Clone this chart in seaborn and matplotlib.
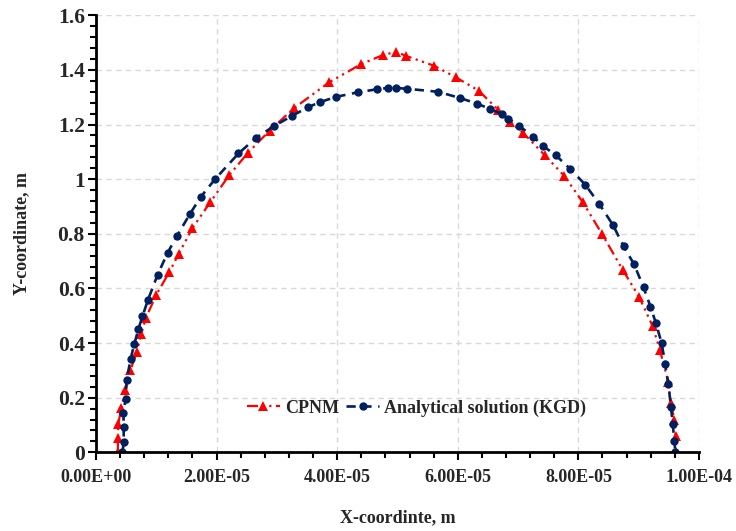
import matplotlib
matplotlib.use("Agg")
import matplotlib.pyplot as plt
import seaborn as sns
import numpy as np
import pandas as pd
from matplotlib.ticker import MultipleLocator, FuncFormatter

# CPNM results (x in m, y in m)
cpnm_x = [0.362, 0.365, 0.370, 0.420, 0.489, 0.572, 0.677, 0.750, 0.828, 0.998,
          1.219, 1.370, 1.600, 1.897, 2.207, 2.522, 2.881, 3.284, 3.869, 4.395,
          4.765, 4.980, 5.146, 5.610, 5.967, 6.348, 6.672, 6.874, 7.086, 7.446,
          7.766, 8.075, 8.396, 8.740, 9.005, 9.232, 9.353, 9.491, 9.531, 9.594,
          9.615, 9.619]
cpnm_y = [0.000, 0.053, 0.103, 0.164, 0.229, 0.301, 0.368, 0.433, 0.492, 0.576,
          0.661, 0.726, 0.821, 0.916, 1.014, 1.097, 1.178, 1.260, 1.355, 1.421,
          1.455, 1.466, 1.451, 1.415, 1.373, 1.324, 1.253, 1.208, 1.169, 1.087,
          1.012, 0.915, 0.798, 0.666, 0.570, 0.462, 0.373, 0.259, 0.181, 0.117,
          0.059, 0.000]

# Analytical KGD solution
kgd_x = [0.439, 0.461, 0.459, 0.456, 0.491, 0.509, 0.575, 0.638, 0.705, 0.771,
         0.859, 1.022, 1.189, 1.343, 1.559, 1.741, 1.978, 2.363, 2.653, 2.957,
         3.245, 3.521, 3.715, 3.975, 4.340, 4.655, 4.847, 4.975, 5.158, 5.672,
         6.041, 6.323, 6.542, 6.741, 6.836, 7.018, 7.252, 7.410, 7.624, 7.861,
         8.114, 8.350, 8.574, 8.751, 8.922, 9.080, 9.196, 9.287, 9.381, 9.439,
         9.491, 9.536, 9.564, 9.594, 9.607]
kgd_y = [0.000, 0.038, 0.091, 0.145, 0.195, 0.264, 0.343, 0.398, 0.452, 0.498,
         0.556, 0.650, 0.731, 0.792, 0.873, 0.936, 1.001, 1.094, 1.151, 1.195,
         1.231, 1.264, 1.282, 1.301, 1.318, 1.329, 1.334, 1.334, 1.331, 1.320,
         1.297, 1.276, 1.257, 1.237, 1.222, 1.195, 1.156, 1.122, 1.088, 1.038,
         0.980, 0.908, 0.832, 0.754, 0.689, 0.605, 0.533, 0.472, 0.399, 0.324,
         0.250, 0.167, 0.102, 0.041, 0.000]

x_scale = 1e-5
cpnm = pd.DataFrame({"x": np.array(cpnm_x) * x_scale, "y": cpnm_y})
kgd = pd.DataFrame({"x": np.array(kgd_x) * x_scale, "y": kgd_y})

sns.set_theme(style="white")
plt.rcParams["font.family"] = ["Liberation Serif", "DejaVu Serif"]
plt.rcParams["font.weight"] = "bold"

fig = plt.figure(figsize=(7.36, 5.31), dpi=100)
ax = fig.add_axes([0.1304, 0.1482, 0.8193, 0.8230])

sns.lineplot(data=cpnm, x="x", y="y", sort=False, estimator=None, ax=ax,
             color="#FF0000", linewidth=1.6, linestyle=(0, (5, 2, 1, 2, 1, 2)),
             marker="^", markersize=7, markeredgewidth=0, label="CPNM")
sns.lineplot(data=kgd, x="x", y="y", sort=False, estimator=None, ax=ax,
             color="#002060", linewidth=1.9, linestyle=(0, (3.5, 2.5)),
             marker="o", markersize=6, markeredgewidth=0,
             label="Analytical solution (KGD)")

ax.set_xlim(0, 1e-4)
ax.set_ylim(0, 1.6)
ax.xaxis.set_major_locator(MultipleLocator(2e-5))
ax.xaxis.set_minor_locator(MultipleLocator(4e-6))
ax.yaxis.set_major_locator(MultipleLocator(0.2))
ax.yaxis.set_minor_locator(MultipleLocator(0.04))
ax.xaxis.set_major_formatter(FuncFormatter(lambda v, p: f"{v:.2E}"))
ax.yaxis.set_major_formatter(FuncFormatter(lambda v, p: f"{v:g}"))

ax.grid(True, which="major", color="#D9D9D9", linestyle=(0, (4, 3)), linewidth=1.0)
ax.set_axisbelow(True)
for s in ["top", "right"]:
    ax.spines[s].set_visible(False)
for s in ["left", "bottom"]:
    ax.spines[s].set_color("black")
    ax.spines[s].set_linewidth(2.0)

ax.tick_params(axis="both", which="major", direction="out", length=6, width=1.5,
               color="black", bottom=True, left=True)
ax.tick_params(axis="both", which="minor", direction="out", length=4, width=1.5,
               color="black", bottom=True, left=True)
ax.tick_params(axis="x", which="major", labelsize=13, pad=6)
ax.tick_params(axis="y", which="major", labelsize=15.5, pad=2)
for lbl in ax.get_xticklabels() + ax.get_yticklabels():
    lbl.set_fontweight("bold")

ax.set_xlabel("X-coordinte, m", fontsize=13, fontweight="bold", labelpad=17)
ax.set_ylabel("Y-coordinate, m", fontsize=13, fontweight="bold", labelpad=20)

leg = ax.legend(loc="center", bbox_to_anchor=(0.532, 0.101), ncol=2, frameon=False,
                handlelength=1.8, handletextpad=0.3, columnspacing=0.4,
                prop={"weight": "bold", "size": 13})

fig.savefig("out.png", dpi=100)
